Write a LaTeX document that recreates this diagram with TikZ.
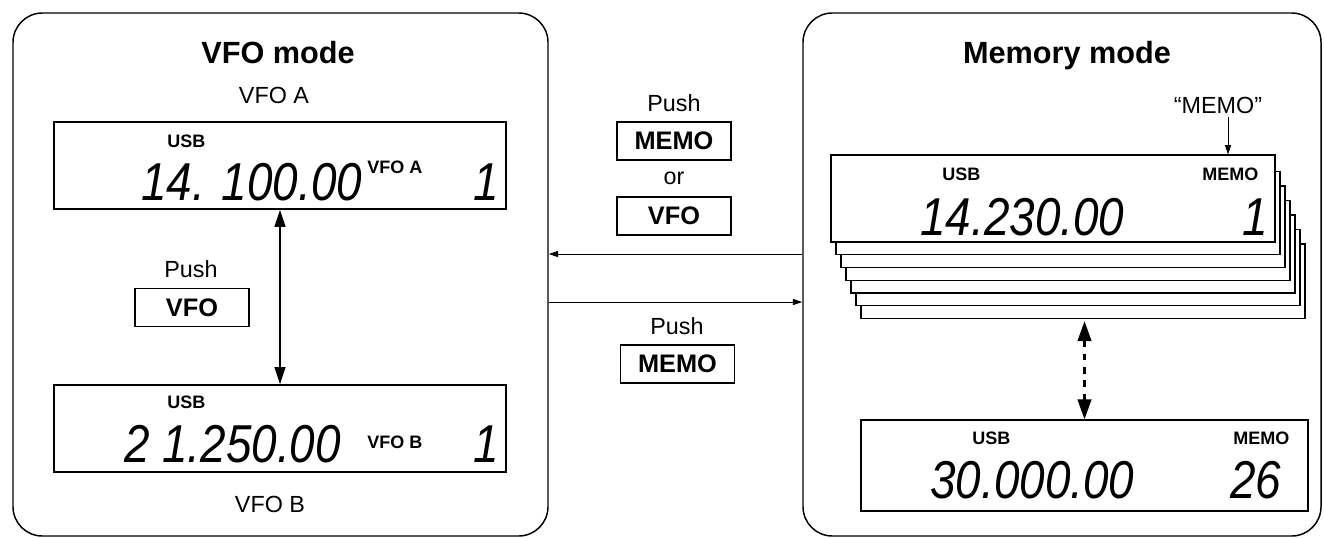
\documentclass[tikz,border=0pt]{standalone}
\usepackage{fontspec}
\setmainfont{Liberation Sans}
\newfontfamily\lcdfont[FakeStretch=0.86]{Liberation Sans}
\usetikzlibrary{arrows.meta,fit}
\begin{document}
\begin{tikzpicture}[x=0.75pt,y=-0.75pt,
  panel/.style={draw, line width=1.1pt, rounded corners=22pt, inner sep=0pt},
  lcd/.style={draw, line width=0.8pt, fill=white, inner sep=0pt},
  btn/.style={draw, line width=0.9pt, inner sep=0pt, minimum width=85.5pt, minimum height=28.5pt, font=\bfseries\fontsize{19}{19}\selectfont},
  title/.style={inner sep=0pt, anchor=base, font=\bfseries\fontsize{23}{23}\selectfont},
  lbl/.style={inner sep=0pt, anchor=base, font=\fontsize{17.5}{17.5}\selectfont},
  tag/.style={inner sep=0pt, anchor=base west, font=\bfseries\fontsize{13.5}{13.5}\selectfont},
  digits/.style={inner sep=0pt, anchor=base west, font=\lcdfont\itshape\fontsize{40}{40}\selectfont},
  chan/.style={inner sep=0pt, anchor=base, font=\lcdfont\itshape\fontsize{40}{40}\selectfont},
  bigarrow/.style={line width=1.6pt, {Triangle[length=13pt,width=8pt]}-{Triangle[length=13pt,width=8pt]}},
  thinarrow/.style={line width=0.7pt, -{Triangle[length=7pt,width=4.5pt]}},
  dasharrow/.style={line width=2.2pt, dash pattern=on 5pt off 5pt, {Triangle[length=15pt,width=10pt]}-{Triangle[length=15pt,width=10pt]}}
]
\useasboundingbox (0,0) rectangle (1324,537);

% panels
\node[panel, fit={(13,13) (548,536)}] (pV) {};
\node[panel, fit={(803,13) (1321,536)}] (pM) {};

% VFO mode panel
\node[title] (tV) at (278,63) {VFO mode};
\node[lbl] (lA) at (274,103) {VFO A};
\node[lcd, fit={(54,122) (506,209)}] (dA) {};
\node[tag] (uA) at (167,147) {USB};
\node[digits] (fA) at (141,200) {14. 100.00};
\node[tag] (vA) at (367,173) {VFO A};
\node[chan] (cA) at (486,200) {1};

\node[lbl] (pushV) at (191,277) {Push};
\node[btn] (bV) at (192,307.5) {VFO};

\node[lcd, fit={(54,385) (506,472)}] (dB) {};
\node[tag] (uB) at (167,408) {USB};
\node[digits] (fB) at (124,462) {2 1.250.00};
\node[tag] (vB) at (367,448) {VFO B};
\node[chan] (cB) at (486,462) {1};
\node[lbl] (lB) at (270,512) {VFO B};

\draw[bigarrow] (dA.south) -- (dB.north);

% middle
\node[lbl] (push1) at (674,111) {Push};
\node[btn] (b1) at (674,141) {MEMO};
\node[lbl] (or) at (674,184) {or};
\node[btn] (b2) at (674,216) {VFO};
\node[lbl] (push2) at (677,334) {Push};
\node[btn] (b3) at (677.5,364) {MEMO};

\coordinate (yU) at (0,254);
\coordinate (yL) at (0,302);
\draw[thinarrow] (pM.west |- yU) -- (pV.east |- yU);
\draw[thinarrow] (pV.east |- yL) -- (pM.west |- yL);

% Memory mode panel
\node[title] (tM) at (1067,63) {Memory mode};
\node[lbl] (qm) at (1218,113) {``MEMO''};

\foreach \i in {6,5,4,3,2,1}
  \draw[lcd] (831+5*\i,157+14.5*\i) rectangle (1275+5*\i,242+12.75*\i);

\node[lcd, fit={(831,155) (1275,242)}] (dM) {};
\node[tag] (uM) at (942,180) {USB};
\node[tag] (mM) at (1202,180) {MEMO};
\node[digits] (fM) at (920,235) {14.230.00};
\node[chan] (cM) at (1255,235) {1};

\coordinate (qa) at (1228,117);
\draw[line width=0.7pt, -{Triangle[length=7pt,width=4.5pt]}] (qa) -- (qa |- dM.north);

\node[lcd, fit={(861,420) (1308,511)}] (dN) {};
\node[tag] (uN) at (972,444) {USB};
\node[tag] (mN) at (1233,444) {MEMO};
\node[digits] (fN) at (930,498) {30.000.00};
\node[digits] (cN) at (1230,498) {26};

\coordinate (stk) at (0,321);
\draw[dasharrow] (dN.north |- stk) -- (dN.north);
\end{tikzpicture}
\end{document}
